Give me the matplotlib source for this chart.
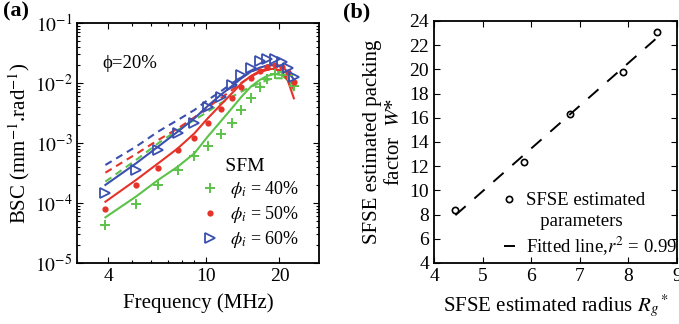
import numpy as np
import matplotlib
matplotlib.use("Agg")
import matplotlib.pyplot as plt
from matplotlib.lines import Line2D
from matplotlib.ticker import FixedLocator, NullFormatter, LogLocator

plt.rcParams['font.family'] = ['Liberation Serif', 'STIXGeneral', 'DejaVu Serif']
plt.rcParams['mathtext.fontset'] = 'stix'

# ---------------- Panel (a) data ----------------
freq = [3.9, 5.2, 6.4, 7.7, 9.0, 10.2, 11.5, 12.8, 14.0, 15.3, 16.6, 17.8, 19.1, 20.4, 21.6, 22.9]

meas_40 = [4.3e-5, 9.6e-5, 2.0e-4, 3.55e-4, 6.1e-4, 9.0e-4, 1.41e-3, 2.18e-3, 3.55e-3, 5.55e-3,
           8.5e-3, 1.17e-2, 1.41e-2, 1.55e-2, 1.36e-2, 8.9e-3]
meas_50 = [7.8e-5, 2.0e-4, 3.8e-4, 7.6e-4, 1.2e-3, 2.18e-3, 3.64e-3, 5.55e-3, 8.47e-3, 1.2e-2,
           1.58e-2, 1.87e-2, 2.0e-2, 1.87e-2, 1.55e-2, 1.05e-2]
meas_60 = [1.45e-4, 3.55e-4, 7.6e-4, 1.45e-3, 2.18e-3, 3.93e-3, 5.9e-3, 9.3e-3, 1.36e-2, 1.75e-2,
           2.36e-2, 2.48e-2, 2.48e-2, 2.27e-2, 1.75e-2, 1.28e-2]

fit_40 = [5.77e-5, 1.28e-4, 2.42e-4, 4.04e-4, 6.73e-4, 1.28e-3, 2.27e-3, 3.8e-3, 5.9e-3, 8.7e-3,
          1.12e-2, 1.31e-2, 1.41e-2, 1.36e-2, 1.12e-2, 7.6e-3]
fit_50 = [1.05e-4, 2.42e-4, 4.58e-4, 8.15e-4, 1.45e-3, 2.58e-3, 4.3e-3, 6.73e-3, 9.9e-3, 1.31e-2,
          1.58e-2, 1.71e-2, 1.71e-2, 1.55e-2, 1.12e-2, 5.55e-3]
fit_60 = [2.0e-4, 4.58e-4, 8.7e-4, 1.55e-3, 2.58e-3, 4.14e-3, 6.3e-3, 8.9e-3, 1.2e-2, 1.55e-2,
          1.8e-2, 1.95e-2, 2.0e-2, 1.87e-2, 1.55e-2, 1.15e-2]

sfm_40 = [2.27e-4, 5.2e-4, 9.9e-4, 1.65e-3, 2.42e-3, 3.33e-3, 4.58e-3, 5.9e-3, 7.2e-3, 8.7e-3,
          9.9e-3, 1.12e-2, 1.2e-2, 1.2e-2, 1.12e-2, 9.3e-3]
sfm_50 = [3.2e-4, 6.56e-4, 1.12e-3, 1.75e-3, 2.68e-3, 3.93e-3, 5.55e-3, 7.64e-3, 1.01e-2, 1.28e-2,
          1.51e-2, 1.65e-2, 1.71e-2, 1.6e-2, 1.24e-2, 8.0e-3]
sfm_60 = [4.3e-4, 8.7e-4, 1.55e-3, 2.42e-3, 3.55e-3, 5.2e-3, 7.2e-3, 9.9e-3, 1.24e-2, 1.55e-2,
          1.75e-2, 1.95e-2, 2.0e-2, 1.92e-2, 1.6e-2, 1.28e-2]

labels_a = [r'$\phi_i$ = 40%', r'$\phi_i$ = 50%', r'$\phi_i$ = 60%']
xticks_a = [4, 10, 20]
yticks_a = [1e-5, 1e-4, 1e-3, 1e-2, 1e-1]
ytick_labels_a = [r'$10^{-5}$', r'$10^{-4}$', r'$10^{-3}$', r'$10^{-2}$', r'$10^{-1}$']

# ---------------- Panel (b) data ----------------
radius = [4.44, 5.86, 6.80, 7.88, 8.59]
packing = [8.41, 12.36, 16.28, 19.80, 23.09]
r2_text = '0.99'

green = '#5cc24a'
red = '#e6332a'
blue = '#3b4fae'

fig = plt.figure(figsize=(6.79, 3.24), dpi=100)
axa = fig.add_axes([0.1141, 0.1883, 0.3557, 0.7407])
axb = fig.add_axes([0.6392, 0.1883, 0.3579, 0.7469])

# Panel (a)
for fit, sfm, col in [(fit_40, sfm_40, green), (fit_50, sfm_50, red), (fit_60, sfm_60, blue)]:
    axa.plot(freq, sfm, ls=(0, (3.5, 2.5)), color=col, lw=1.5)
    axa.plot(freq, fit, ls='-', color=col, lw=1.5)

h1, = axa.plot(freq, meas_40, ls='none', marker='+', ms=7, mew=1.4, color=green)
h2, = axa.plot(freq, meas_50, ls='none', marker='o', ms=4.5, mew=0, color=red)
h3, = axa.plot(freq, meas_60, ls='none', marker='>', ms=7, mew=1.3, mfc='none', mec=blue)

axa.set_xscale('log')
axa.set_yscale('log')
axa.set_xlim(3, 29)
axa.set_ylim(1e-5, 1e-1)
axa.xaxis.set_major_locator(FixedLocator(xticks_a))
axa.set_xticklabels([str(t) for t in xticks_a])
axa.xaxis.set_minor_locator(LogLocator(base=10, subs=np.arange(2, 10)))
axa.xaxis.set_minor_formatter(NullFormatter())
axa.yaxis.set_major_locator(FixedLocator(yticks_a))
axa.set_yticklabels(ytick_labels_a)
axa.yaxis.set_minor_locator(LogLocator(base=10, subs=np.arange(2, 10)))
axa.yaxis.set_minor_formatter(NullFormatter())
axa.set_xlabel('Frequency (MHz)', fontsize=15, labelpad=6)
axa.set_ylabel(r'BSC (mm$^{-1}$.rad$^{-1}$)', fontsize=15, labelpad=2)
axa.text(0.105, 0.83, '\u03d5=20%', transform=axa.transAxes, fontsize=13.5, va='center', ha='left')
leg = axa.legend([h1, h2, h3], labels_a, title='     SFM', loc='upper left', bbox_to_anchor=(0.51, 0.437),
                 frameon=False, fontsize=13, title_fontsize=14, handlelength=1.0, handletextpad=0.6,
                 labelspacing=0.22, borderaxespad=0, borderpad=0, alignment='left')
fig.text(0.005, 0.965, '(a)', fontsize=16, fontweight='bold', va='center', ha='left')

# Panel (b)
coef = np.polyfit(radius, packing, 1)
xs = np.array([min(radius), max(radius)])
hb1, = axb.plot(radius, packing, ls='none', marker='o', ms=4.5, mfc='none', mec='black', mew=1.2)
hb2, = axb.plot(xs, np.polyval(coef, xs), ls=(0, (7, 6)), color='black', lw=1.4)
axb.set_xlim(4, 9)
axb.set_ylim(4, 24)
axb.set_xticks([4, 5, 6, 7, 8, 9])
axb.set_yticks(list(range(4, 25, 2)))
axb.set_xlabel(r'SFSE estimated radius $R_g{}^*$', fontsize=15, labelpad=6)
axb.set_ylabel('SFSE estimated packing\nfactor  $W$*', fontsize=15, labelpad=4)
blank = Line2D([], [], ls='none')
legb = axb.legend([hb1, blank, hb2],
                  ['SFSE estimated', '   parameters', 'Fitted line,$r^2$ = ' + r2_text],
                  loc='lower right', bbox_to_anchor=(1.0, 0.022), frameon=False, fontsize=13.5,
                  handlelength=0.55, handletextpad=0.6, labelspacing=0.22, borderaxespad=0, borderpad=0)
fig.text(0.505, 0.96, '(b)', fontsize=16, fontweight='bold', va='center', ha='left')

for ax in (axa, axb):
    ax.tick_params(which='both', direction='in', top=True, right=True, labelsize=14, width=0.8)
    ax.tick_params(which='major', length=4)
    ax.tick_params(which='minor', length=2)
    for s in ax.spines.values():
        s.set_linewidth(1.3)

fig.savefig('out.png', dpi=100)
